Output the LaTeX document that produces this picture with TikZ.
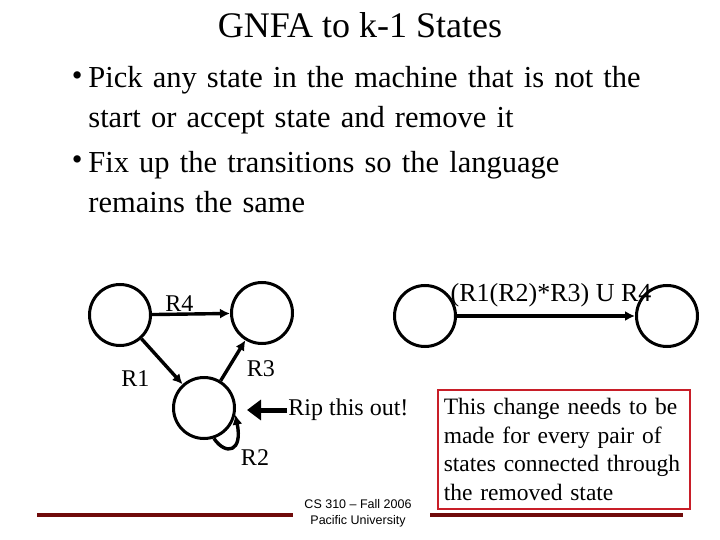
\documentclass[tikz,border=0pt]{standalone}
\usepackage{fontspec}
\setmainfont{Liberation Serif}
\setsansfont{Liberation Sans}
\usepackage{xcolor}
\usepackage{tikz}
\usetikzlibrary{arrows,arrows.meta,positioning}

\definecolor{boxred}{RGB}{200,30,40}
\definecolor{barred}{RGB}{112,10,10}

\begin{document}
\begin{tikzpicture}[
    x=1pt,
    y=-1pt,
    thick,
    state/.style={
        circle,
        draw,
        line width=3pt,
        minimum size=61pt,
        inner sep=0pt
    },
    trans/.style={-{Latex[length=10pt,width=10pt]}, line width=3.4pt},
    ripper/.style={-{Triangle[length=14pt,width=20pt]}, line width=5pt},
    lbl/.style={font=\fontsize{24}{28}\selectfont, inner sep=1pt},
    bullettext/.style={
        anchor=north west,
        inner sep=0pt,
        text width=620pt,
        align=left,
        font=\fontsize{30.5}{40}\selectfont
    },
    note/.style={
        draw=boxred,
        line width=1.5pt,
        anchor=north west,
        minimum width=252pt,
        minimum height=119pt,
        text width=240pt,
        inner sep=5pt,
        align=left,
        font=\fontsize{23.5}{28.5}\selectfont
    },
    bar/.style={barred, line width=4pt}
]
    \useasboundingbox (0,0) rectangle (720,540);

    % title and bullets
    \node[font=\fontsize{36}{40}\selectfont] (title) at (360,25) {GNFA to k-1 States};
    \node[bullettext] (pt1) at (88,66) {Pick any state in the machine that is not the\\start or accept state and remove it};
    \node[bullettext] (pt2) at (88,151) {Fix up the transitions so the language\\remains the same};
    \node[font=\fontsize{30.5}{40}\selectfont, anchor=east, inner sep=0pt] at (83,79) {•};
    \node[font=\fontsize{30.5}{40}\selectfont, anchor=east, inner sep=0pt] at (83,163) {•};

    % before: three states
    \node[state] (qi) at (120,315) {};
    \node[state] (qj) at (262,313) {};
    \node[state] (qrip) at (204,408) {};

    \draw[trans] (qi) -- node[lbl, above, pos=0.35] {R4} (qj);
    \draw[trans] (qi) -- node[lbl, below left=6pt and 10pt] {R1} (qrip);
    \draw[trans] (qrip) -- node[lbl, right=16pt, pos=0.3] {R3} (qj);
    \draw[trans] (qrip.-72) .. controls (226,456) and (243,452) .. (qrip.-12);
    \node[lbl] (r2) at (255,458) {R2};

    \coordinate (ripin) at (247,410);
    \node[lbl, anchor=west] (ripnote) at (287,410) {Rip this out!};
    \draw[ripper] (ripnote.west) -- (ripin);

    % after: two states
    \node[state] (qa) at (425,316) {};
    \node[state] (qb) at (667,316) {};
    \draw[trans] (qa) -- node[lbl, above=6pt, xshift=5pt, font=\fontsize{26}{30}\selectfont] {(R1(R2)*R3) U R4} (qb);

    \node[note] (remark) at (437,389) {This change needs to be\\made for every pair of\\states connected through\\the removed state};

    % footer
    \draw[bar] (37,515) -- (293,515);
    \draw[bar] (430,515) -- (683,515);
    \node[font=\sffamily\fontsize{12.5}{16}\selectfont, align=center] (foot) at (358,513) {CS 310 -- Fall 2006\\Pacific University};
\end{tikzpicture}
\end{document}
